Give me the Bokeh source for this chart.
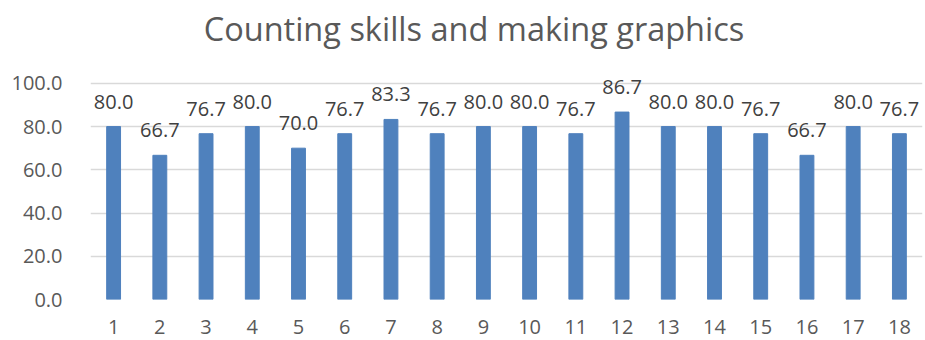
from bokeh.plotting import figure
from bokeh.models import ColumnDataSource, FixedTicker, NumeralTickFormatter, LabelSet, Label
from bokeh.core.properties import value
from bokeh.embed import file_html
from bokeh.resources import INLINE

title = "Counting skills and making graphics"
categories = [str(i) for i in range(1, 19)]
scores = [80.0, 66.7, 76.7, 80.0, 70.0, 76.7, 83.3, 76.7, 80.0, 80.0,
          76.7, 86.7, 80.0, 80.0, 76.7, 66.7, 80.0, 76.7]
labels = [f"{v:.1f}" for v in scores]
y_ticks = [0, 20, 40, 60, 80, 100]

FONT = "Open Sans"
source = ColumnDataSource(dict(cat=categories, score=scores, label=labels))

# frame spans nearly the full height; the extra range above 100 holds the title
p = figure(x_range=categories, y_range=(0, 136), width=925, height=340,
           output_backend="svg", toolbar_location=None,
           min_border_left=90, min_border_right=3, min_border_top=5, min_border_bottom=41)

p.vbar(x="cat", top="score", width=0.3, source=source, color="#4F81BD")

p.add_layout(LabelSet(x="cat", y="score", text="label", source=source,
                      text_align="center", text_baseline="alphabetic", y_offset=18,
                      text_font=value(FONT), text_font_size=value("20px"),
                      text_color=value("#404040")))

# centre of the categorical range, shifted to centre on the whole figure
p.add_layout(Label(x=len(categories) / 2, y=125.5, x_offset=-32.5, text=title,
                   text_align="center", text_baseline="middle",
                   text_font=FONT, text_font_size="32.5px", text_color="#595959"))

p.outline_line_color = None
p.xgrid.grid_line_color = None
p.ygrid.grid_line_color = "#D9D9D9"
p.ygrid.grid_line_width = 1.5
p.yaxis.ticker = FixedTicker(ticks=y_ticks)
p.yaxis.formatter = NumeralTickFormatter(format="0.0")

for ax in (p.xaxis[0], p.yaxis[0]):
    ax.axis_line_color = None
    ax.major_tick_line_color = None
    ax.minor_tick_line_color = None
    ax.major_label_text_font = FONT
    ax.major_label_text_font_size = "20px"
    ax.major_label_text_color = "#595959"
p.xaxis.major_label_standoff = 14
p.yaxis.major_label_standoff = 22

open("out.html", "w").write(file_html(p, INLINE))
